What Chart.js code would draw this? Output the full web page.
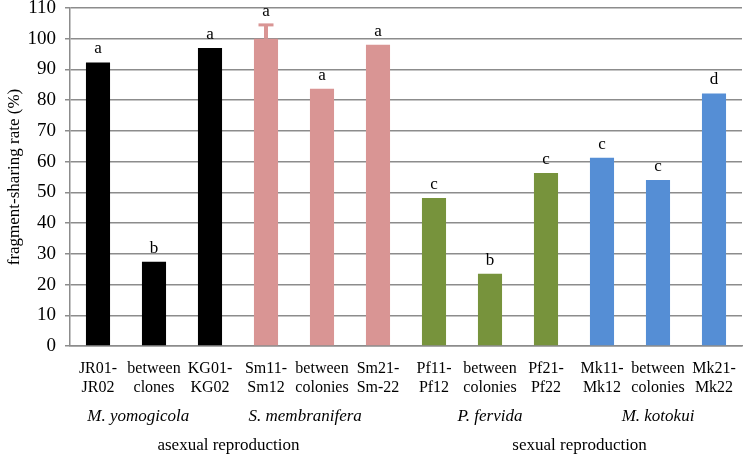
<!DOCTYPE html>
<html lang="en">
<head>
  <meta charset="UTF-8">
  <title>Fragment-sharing rate</title>
  <script src="https://cdn.jsdelivr.net/npm/chart.js"></script>
  <style>
    body { margin: 0; background: #fff; }
    .wrap { width: 745px; height: 455px; position: relative; }
  </style>
</head>
<body>
<div class="wrap"><canvas id="shareChart"></canvas></div>

<script>
  // data
  const pairLabels = [
    ['JR01-', 'JR02'], ['between', 'clones'], ['KG01-', 'KG02'],
    ['Sm11-', 'Sm12'], ['between', 'colonies'], ['Sm21-', 'Sm-22'],
    ['Pf11-', 'Pf12'], ['between', 'colonies'], ['Pf21-', 'Pf22'],
    ['Mk11-', 'Mk12'], ['between', 'colonies'], ['Mk21-', 'Mk22']
  ];
  const shareRate = [92.3, 27.4, 97.0, 100, 83.7, 98.0, 48.2, 23.5, 56.3, 61.3, 54.0, 82.2];
  const errorTop = [null, null, null, 104.5, null, null, null, null, null, null, null, null];
  const sigLetters = ['a', 'b', 'a', 'a', 'a', 'a', 'c', 'b', 'c', 'c', 'c', 'd'];
  const barColors = [
    '#000000', '#000000', '#000000',
    '#d99594', '#d99594', '#d99594',
    '#77933c', '#77933c', '#77933c',
    '#558ed5', '#558ed5', '#558ed5'
  ];
  const speciesNames = ['M. yomogicola', 'S. membranifera', 'P. fervida', 'M. kotokui'];
  const speciesPos = [0.72, 3.7, 7, 10];
  const modeNames = ['asexual reproduction', 'sexual reproduction'];
  const modePos = [2.33, 8.6];

  const serif = '"Liberation Serif", "Times New Roman", serif';

  // letters, error bar and the lower label rows
  const extras = {
    id: 'extras',
    afterDatasetsDraw(chart) {
      const ctx = chart.ctx;
      const x = chart.scales.x, y = chart.scales.y;
      ctx.save();

      errorTop.forEach((v, i) => {
        if (v == null) return;
        const px = x.getPixelForValue(i);
        ctx.strokeStyle = '#d99594';
        ctx.lineWidth = 4;
        ctx.beginPath();
        ctx.moveTo(px, y.getPixelForValue(shareRate[i]));
        ctx.lineTo(px, y.getPixelForValue(v));
        ctx.stroke();
        ctx.lineWidth = 3;
        ctx.beginPath();
        ctx.moveTo(px - 7.5, y.getPixelForValue(v));
        ctx.lineTo(px + 7.5, y.getPixelForValue(v));
        ctx.stroke();
      });

      ctx.fillStyle = '#000';
      ctx.font = '17px ' + serif;
      ctx.textAlign = 'center';
      ctx.textBaseline = 'bottom';
      sigLetters.forEach((l, i) => {
        const top = errorTop[i] != null ? errorTop[i] : shareRate[i];
        ctx.fillText(l, x.getPixelForValue(i), y.getPixelForValue(top) - 5);
      });

      ctx.textBaseline = 'middle';
      ctx.font = 'italic 17px ' + serif;
      speciesNames.forEach((s, i) => {
        ctx.fillText(s, x.getPixelForValue(speciesPos[i]), 417);
      });
      ctx.font = '17px ' + serif;
      modeNames.forEach((s, i) => {
        ctx.fillText(s, x.getPixelForValue(modePos[i]), 446);
      });
      ctx.restore();
    }
  };

  new Chart(document.getElementById('shareChart'), {
    type: 'bar',
    data: {
      labels: pairLabels,
      datasets: [{
        data: shareRate,
        backgroundColor: barColors,
        barPercentage: 0.43,
        categoryPercentage: 1
      }]
    },
    options: {
      responsive: true,
      maintainAspectRatio: false,
      animation: false,
      layout: { padding: { top: 0, right: 3, left: 0, bottom: 0 } },
      plugins: {
        legend: { display: false },
        tooltip: { enabled: false }
      },
      scales: {
        x: {
          grid: { display: false },
          border: { color: '#8c8c8c', width: 1.5 },
          ticks: {
            color: '#000',
            font: { family: serif, size: 16, lineHeight: 1.15 },
            maxRotation: 0,
            autoSkip: false,
            padding: 6
          },
          afterFit(scale) { scale.height = 109; }
        },
        y: {
          min: 0,
          max: 110,
          ticks: {
            stepSize: 10,
            color: '#000',
            font: { family: serif, size: 19 },
            padding: 9
          },
          grid: { color: '#8c8c8c', lineWidth: 1.5, tickLength: 5 },
          border: { color: '#8c8c8c', width: 1.5 },
          title: {
            display: true,
            text: 'fragment-sharing rate (%)',
            color: '#000',
            font: { family: serif, size: 17 },
            padding: { top: 4, bottom: 0 }
          },
          afterFit(scale) {
            scale.width = 70;
            scale.paddingTop = 8;
            scale.paddingBottom = 0;
          }
        }
      }
    },
    plugins: [extras]
  });
</script>
</body>
</html>
